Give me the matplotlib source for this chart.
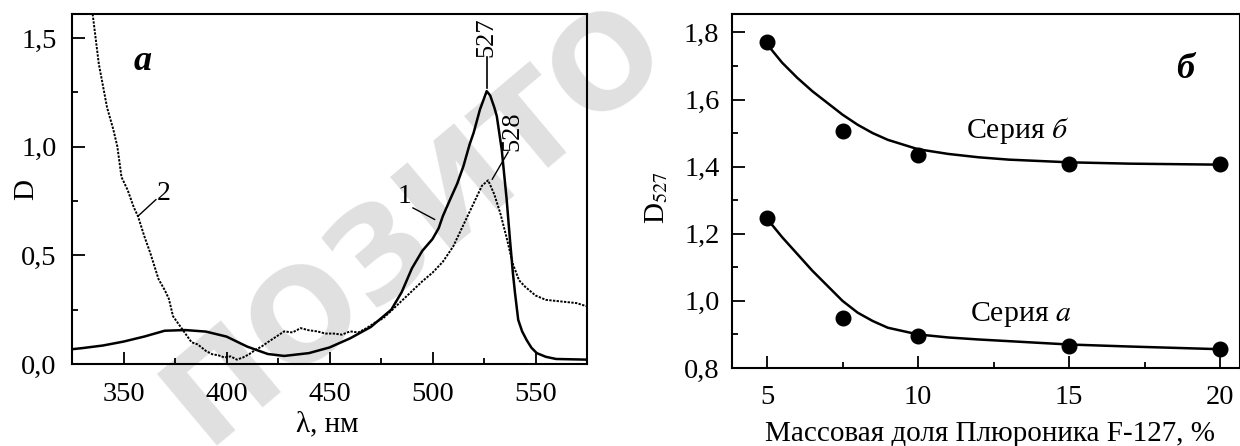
import matplotlib.pyplot as plt
from matplotlib.ticker import MultipleLocator, FuncFormatter

plt.rcParams['font.family'] = ['Liberation Serif', 'DejaVu Serif']
plt.rcParams['mathtext.fontset'] = 'stix'

# --- панель а: спектры поглощения ---
wl1 = [325, 330, 340, 350, 360, 370, 380, 390, 400, 410, 420, 428, 440, 450, 460,
       470, 480, 485, 490, 495, 500, 503, 505, 508.5, 512, 515, 518, 520, 523, 526.3,
       528, 530, 531.2, 533.6, 536, 537.6, 539, 540, 541.6, 543.5, 545.7, 548, 550.6,
       555, 560, 575]
D1 = [0.068, 0.073, 0.085, 0.103, 0.126, 0.153, 0.156, 0.149, 0.126, 0.08, 0.046, 0.037,
      0.05, 0.076, 0.118, 0.17, 0.25, 0.33, 0.44, 0.52, 0.575, 0.625, 0.68, 0.756, 0.83,
      0.91, 1.01, 1.065, 1.17, 1.255, 1.235, 1.18, 1.14, 0.986, 0.756, 0.571, 0.42, 0.33,
      0.203, 0.15, 0.11, 0.075, 0.05, 0.033, 0.023, 0.02]

wl2 = [335, 338, 342, 345, 347, 349, 352, 355, 357, 360, 363, 365, 367, 370, 372, 374,
       377, 380, 383, 386, 390, 393, 396, 399, 402, 405, 408, 411, 414, 417, 420, 424,
       428, 432, 436, 440, 444, 448, 452, 456, 460, 464, 468, 472, 476, 480, 485, 490,
       495, 500, 505, 510, 515, 520, 524, 527, 530, 533, 536, 539, 542, 545, 550, 555,
       560, 565, 570, 575]
D2 = [1.61, 1.38, 1.18, 1.08, 1.0, 0.86, 0.80, 0.72, 0.68, 0.59, 0.51, 0.45, 0.39, 0.34,
      0.30, 0.22, 0.18, 0.14, 0.10, 0.09, 0.06, 0.045, 0.04, 0.03, 0.035, 0.02, 0.03,
      0.045, 0.065, 0.08, 0.10, 0.125, 0.15, 0.145, 0.165, 0.155, 0.15, 0.14, 0.14, 0.135,
      0.15, 0.145, 0.165, 0.19, 0.21, 0.245, 0.29, 0.335, 0.38, 0.42, 0.47, 0.54, 0.64,
      0.74, 0.82, 0.845, 0.78, 0.69, 0.58, 0.46, 0.385, 0.355, 0.315, 0.295, 0.29, 0.285,
      0.28, 0.265]

# --- панель б: D527 от доли плюроника ---
conc = [5, 7.5, 10, 15, 20]
ser_b = [1.771, 1.507, 1.436, 1.409, 1.409]
ser_a = [1.248, 0.949, 0.895, 0.866, 0.856]

fit_x = [5, 5.5, 6, 6.5, 7, 7.5, 8, 8.5, 9, 10, 11, 12, 13, 15, 17, 20]
fit_b = [1.765, 1.71, 1.665, 1.625, 1.59, 1.555, 1.525, 1.50, 1.48, 1.452, 1.438, 1.428,
         1.421, 1.413, 1.409, 1.406]
fit_a = [1.245, 1.19, 1.14, 1.09, 1.045, 1.0, 0.965, 0.94, 0.92, 0.90, 0.891, 0.885,
         0.88, 0.870, 0.864, 0.856]

comma = FuncFormatter(lambda v, p: f'{v:.1f}'.replace('.', ','))

fig = plt.figure(figsize=(12.4, 4.46), dpi=100)

# водяной знак
fig.text(0.335, 0.50, 'ПОЗИТО', rotation=40, fontsize=92, fontweight='bold',
         family='DejaVu Sans', color='#e0e0e0', ha='center', va='center', zorder=-1)

ax1 = fig.add_axes([0.0581, 0.1839, 0.4153, 0.7847])
ax2 = fig.add_axes([0.5903, 0.1749, 0.4097, 0.7937])

for ax in (ax1, ax2):
    ax.patch.set_alpha(0)
    for s in ax.spines.values():
        s.set_linewidth(1.5)
    ax.tick_params(which='both', direction='in', top=False, right=False,
                   width=1.3, labelsize=20.5)
    ax.tick_params(which='major', length=9)
    ax.tick_params(which='minor', length=4.5)

ax1.plot(wl1, D1, color='black', linewidth=1.8)
ax1.plot(wl2, D2, color='black', linewidth=1.4, linestyle=(0, (1.2, 0.7)))
ax1.set_xlim(325, 575)
ax1.set_ylim(0, 1.61)
ax1.xaxis.set_major_locator(MultipleLocator(50))
ax1.xaxis.set_minor_locator(MultipleLocator(25))
ax1.yaxis.set_major_locator(MultipleLocator(0.5))
ax1.yaxis.set_minor_locator(MultipleLocator(0.25))
ax1.yaxis.set_major_formatter(comma)
ax1.tick_params(axis='x', pad=13)
ax1.tick_params(axis='y', pad=11)

ax1.text(359.5, 1.39, 'a', fontsize=26, fontweight='bold', style='italic',
         ha='center', va='center')
ax1.plot([526.3, 526.3], [1.27, 1.41], color='black', linewidth=1.2)
ax1.text(526.3, 1.41, '527', rotation=90, fontsize=19, ha='center', va='bottom')
ax1.plot([529, 536.7], [0.85, 0.975], color='black', linewidth=1.0)
ax1.text(539, 0.98, '528', rotation=90, fontsize=19, ha='center', va='bottom')
ax1.plot([490.5, 501], [0.718, 0.665], color='black', linewidth=1.0)
ax1.text(486.6, 0.77, '1', fontsize=20, ha='center', va='center')
ax1.plot([357, 365.7], [0.68, 0.756], color='black', linewidth=1.0)
ax1.text(369.5, 0.786, '2', fontsize=20, ha='center', va='center')

ax2.plot(fit_x, fit_b, color='black', linewidth=1.8)
ax2.plot(fit_x, fit_a, color='black', linewidth=1.8)
ax2.plot(conc, ser_b, 'o', color='black', markersize=10.5)
ax2.plot(conc, ser_a, 'o', color='black', markersize=10.5)
ax2.set_xlim(3.84, 20.66)
ax2.set_ylim(0.8, 1.855)
ax2.xaxis.set_major_locator(MultipleLocator(5))
ax2.xaxis.set_minor_locator(MultipleLocator(2.5))
ax2.yaxis.set_major_locator(MultipleLocator(0.2))
ax2.yaxis.set_minor_locator(MultipleLocator(0.1))
ax2.yaxis.set_major_formatter(comma)
ax2.tick_params(axis='x', pad=12)
ax2.tick_params(axis='y', pad=9)

ax2.text(18.84, 1.69, 'б', fontsize=26, fontweight='bold', style='italic',
         ha='center', va='center')
ax2.text(13.3, 1.507, 'Серия $\\mathit{б}$', fontsize=21.5, ha='center', va='center')
ax2.text(13.4, 0.96, 'Серия $\\mathit{a}$', fontsize=21.5, ha='center', va='center')

fig.text(26 / 1240, 1 - 190 / 446, 'D', fontsize=21, rotation=90, ha='center', va='center')
fig.text(657 / 1240, 1 - 197 / 446, 'D$_{\\mathit{527}}$', fontsize=21, rotation=90,
         ha='center', va='center')
fig.text(327 / 1240, 1 - 424 / 446, 'λ, нм', fontsize=21, ha='center', va='center')
fig.text(990 / 1240, 1 - 434 / 446, 'Массовая доля Плюроника F-127, %', fontsize=21,
         ha='center', va='center')

fig.savefig('out.png', dpi=100)
